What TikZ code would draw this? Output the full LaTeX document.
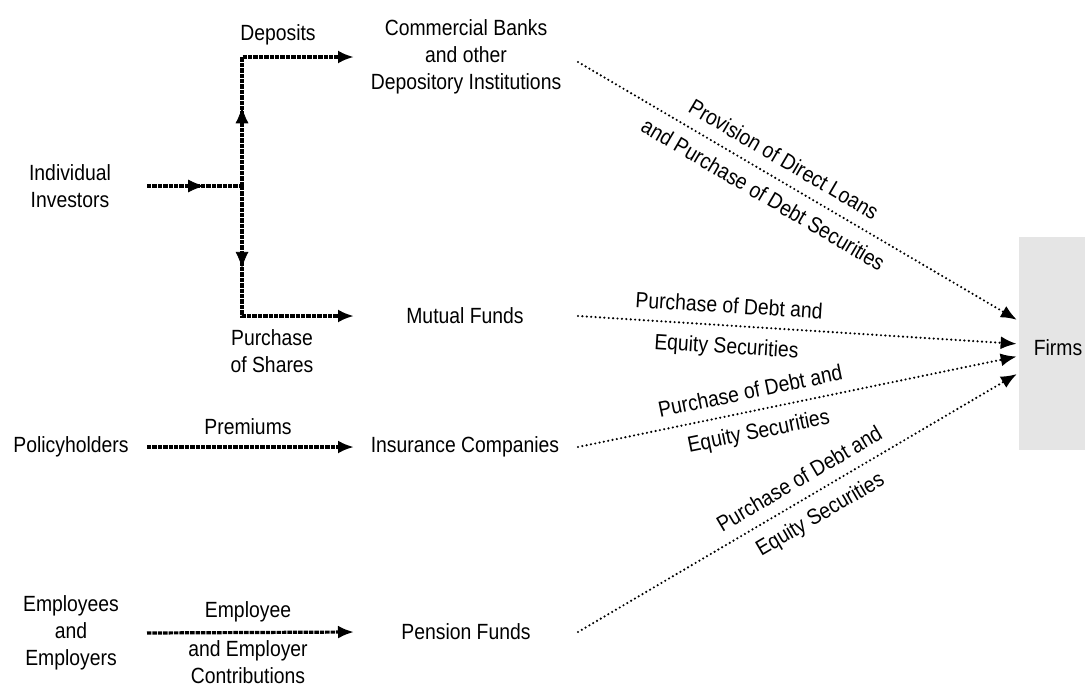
\documentclass[tikz,border=0pt]{standalone}
\usepackage{fontspec}
\setmainfont[FakeStretch=0.88]{Liberation Sans}
\usetikzlibrary{arrows.meta,decorations.markings,calc}

\begin{document}
\begin{tikzpicture}[x=0.5pt,y=-0.5pt,
  every node/.style={font=\fontsize{11}{13.5}\selectfont, align=center, inner sep=0pt},
  feed/.style={line width=1.6pt, dash pattern=on 2.2pt off 0.5pt},
  feedarrow/.style={feed, -{Latex[length=8pt,width=6.5pt]}},
  midtip/.style={decorate, decoration={markings,
      mark=at position #1 with {\arrow{Latex[length=8pt,width=6.5pt]}}}},
  dotarrow/.style={line width=1.2pt, line cap=round, dash pattern=on 0pt off 2.2pt,
      -{Latex[length=8pt,width=6.5pt]}, shorten >=1pt},
  flabel/.style={sloped, inner sep=5.5pt},
]
\path[use as bounding box, fill=white] (0,0) rectangle (1085,685);

% column guides for arrow starts and tips
\coordinate (incol) at (147,0);
\coordinate (tipcol) at (354,0);
\coordinate (outcol) at (578,0);

% sources
\node (inv) at (70,186) {Individual\\Investors};
\node (pol) at (71,447) {Policyholders};
\node (emp) at (71,633) {Employees\\and\\Employers};

% intermediaries
\node (cb) at (466,57) {Commercial Banks\\and other\\Depository Institutions};
\node (mf) at (465,316) {Mutual Funds};
\node (ins) at (465,447) {Insurance Companies};
\node (pf) at (466,632) {Pension Funds};

% firms
\node[fill=black!10, minimum width=33pt, minimum height=106.5pt] (firms) at (1052,343.5) {};
\node (firmstxt) at (1058,348) {Firms};

% flow labels on the left
\node (dep) at (278,35) {Deposits};
\node (shares) at (272,351) {Purchase\\of Shares};
\node (prem) at (248,427) {Premiums};
\node (empl) at (248,612) {Employee};
\node (contr) at (248,662) {and Employer\\Contributions};

% individual investors split into deposits and fund shares
\coordinate (jn) at (242,186);
\coordinate (jtop) at (jn |- cb);
\coordinate (jbot) at (jn |- mf);
\draw[feed] (inv -| incol) -- (jn);
\path[midtip=0.6] (inv -| incol) -- (jn);
\draw[feedarrow] (jn) -- (jtop) -- (cb -| tipcol);
\path[midtip=0.61] (jn) -- (jtop);
\draw[feedarrow] (jn) -- (jbot) -- (mf -| tipcol);
\path[midtip=0.63] (jn) -- (jbot);

\draw[feedarrow] (pol -| incol) -- (ins -| tipcol);
\draw[feedarrow] (emp -| incol) -- (pf -| tipcol);

% flows to firms
\draw[dotarrow] ($(cb -| outcol)+(0,5)$) -- ($(firms.north west)!0.394!(firms.south west)$)
  node[pos=0.444, flabel, above] {Provision of Direct Loans}
  node[pos=0.444, flabel, below] {and Purchase of Debt Securities};
\draw[dotarrow] (mf -| outcol) -- ($(firms.north west)!0.502!(firms.south west)$)
  node[pos=0.34, flabel, above] {Purchase of Debt and}
  node[pos=0.34, flabel, below] {Equity Securities};
\draw[dotarrow] (ins -| outcol) -- ($(firms.north west)!0.559!(firms.south west)$)
  node[pos=0.40, flabel, above] {Purchase of Debt and}
  node[pos=0.40, flabel, below] {Equity Securities};
\draw[dotarrow] (pf -| outcol) -- ($(firms.north west)!0.638!(firms.south west)$)
  node[pos=0.525, flabel, above] {Purchase of Debt and}
  node[pos=0.525, flabel, below] {Equity Securities};
\end{tikzpicture}
\end{document}
